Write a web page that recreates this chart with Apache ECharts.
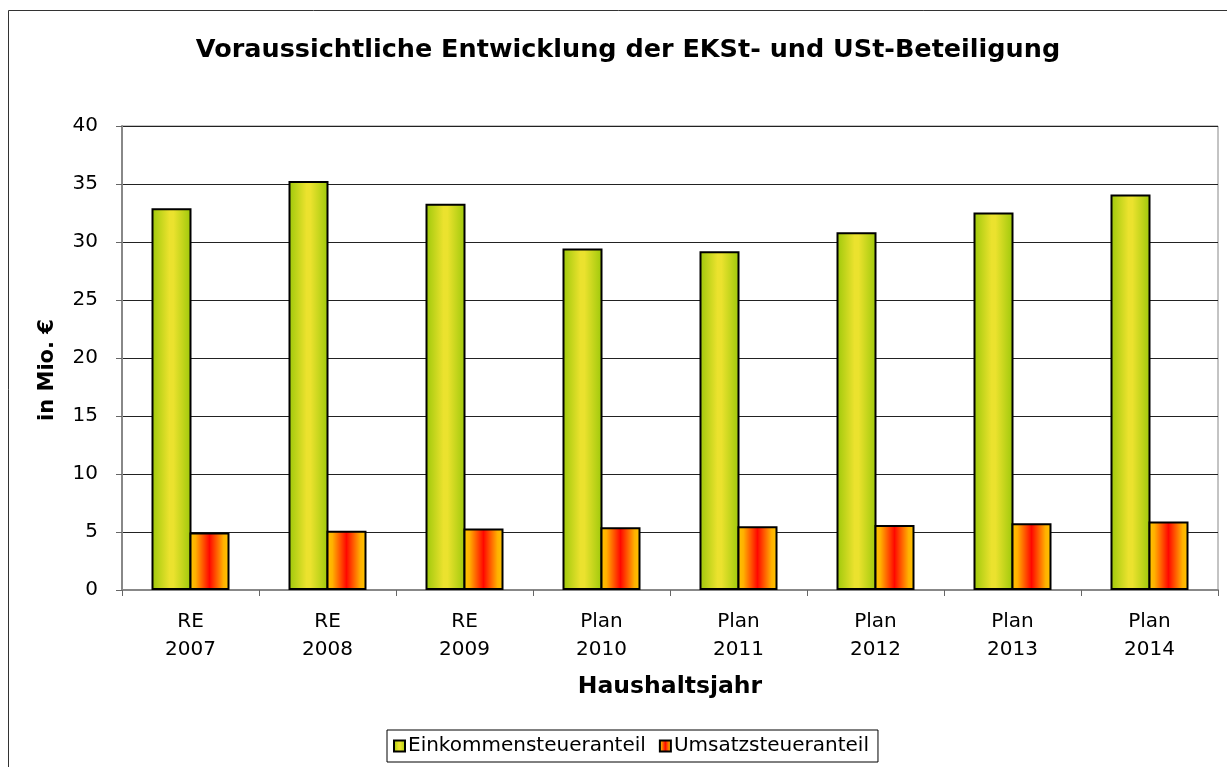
<!DOCTYPE html>
<html>
<head>
<meta charset="utf-8">
<script src="https://cdn.jsdelivr.net/npm/echarts@6/dist/echarts.min.js"></script>
<style>
  html, body { margin: 0; padding: 0; background: #fff; }
  #chart { width: 1227px; height: 767px; }
</style>
</head>
<body>
<div id="chart"></div>
<script>
// Haushaltsjahre
const categories = ['RE\n2007', 'RE\n2008', 'RE\n2009', 'Plan\n2010', 'Plan\n2011', 'Plan\n2012', 'Plan\n2013', 'Plan\n2014']
// Einkommensteueranteil (Mio. €)
const ekstValues = [32.9, 35.25, 33.3, 29.45, 29.2, 30.85, 32.55, 34.1]
// Umsatzsteueranteil (Mio. €)
const ustValues = [4.95, 5.1, 5.3, 5.4, 5.5, 5.6, 5.75, 5.9]
const yTicks = { min: 0, max: 40, interval: 5 }

const font = 'Verdana, "DejaVu Sans", sans-serif'

// horizontale Verläufe wie im Original
const greenFill = new echarts.graphic.LinearGradient(0, 0, 1, 0, [
  { offset: 0, color: '#9cc80a' },
  { offset: 0.45, color: '#ebe22e' },
  { offset: 0.55, color: '#ebe22e' },
  { offset: 1, color: '#9cc80a' },
])
const orangeFill = new echarts.graphic.LinearGradient(0, 0, 1, 0, [
  { offset: 0, color: '#ffc800' },
  { offset: 0.15, color: '#ffb000' },
  { offset: 0.5, color: '#ff0800' },
  { offset: 0.85, color: '#ffb000' },
  { offset: 1, color: '#ffc800' },
])

const chart = echarts.init(document.getElementById('chart'))
const options = {
  backgroundColor: '#fff',
  animation: false,
  graphic: [
    {
      type: 'rect',
      shape: { x: 8.5, y: 10.5, width: 1240, height: 780 },
      style: { fill: 'none', stroke: '#333', lineWidth: 1 },
      silent: true,
    },
  ],
  title: {
    text: 'Voraussichtliche Entwicklung der EKSt- und USt-Beteiligung',
    left: 623,
    textAlign: 'center',
    top: 32,
    textStyle: { fontFamily: font, fontSize: 25.5, fontWeight: 'bold', color: '#000' },
  },
  legend: {
    bottom: 5,
    left: 387,
    itemWidth: 11,
    itemHeight: 11,
    itemGap: 13,
    padding: [6, 9, 6, 6],
    borderColor: '#000',
    borderWidth: 1,
    icon: 'rect',
    textStyle: { fontFamily: font, fontSize: 20, color: '#000', padding: [0, 0, 0, -2] },
    data: ['Einkommensteueranteil', 'Umsatzsteueranteil'],
  },
  grid: {
    left: 122,
    right: 9,
    top: 126,
    bottom: 177,
    containLabel: false,
    show: true,
    borderColor: '#888',
    borderWidth: 1,
  },
  xAxis: {
    type: 'category',
    data: categories,
    name: 'Haushaltsjahr',
    nameLocation: 'middle',
    nameGap: 85,
    nameTextStyle: { fontFamily: font, fontSize: 23.5, fontWeight: 'bold', color: '#000' },
    axisLine: { show: true, lineStyle: { color: '#888', width: 2 } },
    axisTick: { show: true, length: 6, lineStyle: { color: '#666' } },
    axisLabel: { fontFamily: font, fontSize: 20, color: '#000', lineHeight: 28, margin: 18 },
  },
  yAxis: {
    type: 'value',
    min: yTicks.min,
    max: yTicks.max,
    interval: yTicks.interval,
    name: 'in Mio. €',
    nameLocation: 'middle',
    nameGap: 64,
    nameTextStyle: {
      fontFamily: font,
      fontSize: 21,
      fontWeight: 'bold',
      color: '#000',
      padding: [0, 24, 0, 0],
    },
    axisLine: { show: true, lineStyle: { color: '#888', width: 2 } },
    axisTick: { show: true, length: 6, lineStyle: { color: '#666' } },
    axisLabel: { fontFamily: font, fontSize: 20, color: '#000', margin: 24 },
    splitLine: { show: true, lineStyle: { color: '#222', width: 1 } },
  },
  series: [
    {
      name: 'Einkommensteueranteil',
      type: 'bar',
      data: ekstValues,
      barWidth: 40,
      barGap: '-5%',
      itemStyle: { color: greenFill, borderColor: '#000', borderWidth: 2 },
    },
    {
      name: 'Umsatzsteueranteil',
      type: 'bar',
      data: ustValues,
      barWidth: 40,
      barGap: '-5%',
      itemStyle: { color: orangeFill, borderColor: '#000', borderWidth: 2 },
    },
  ],
}
chart.setOption(options)
</script>
</body>
</html>
